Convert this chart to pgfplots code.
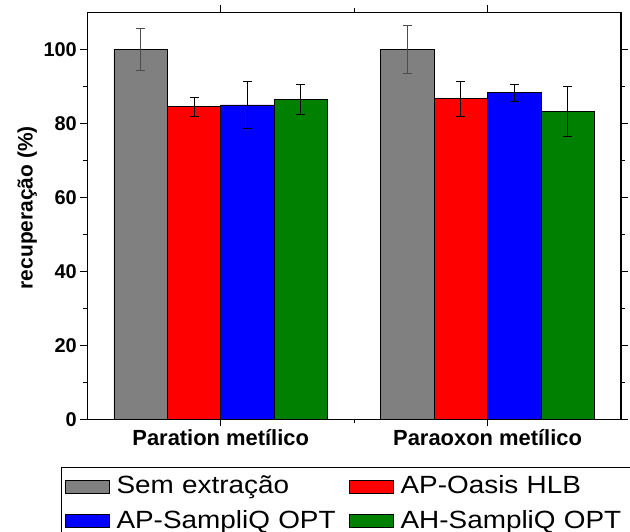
\documentclass[border=0pt]{standalone}
\usepackage{fontspec}
\setmainfont{Liberation Sans}
\newfontfamily\legfont[FakeStretch=1.12]{Liberation Sans}
\usepackage{pgfplots}
\pgfplotsset{compat=1.18}
\definecolor{semgrey}{RGB}{128,128,128}
\definecolor{oasisred}{RGB}{255,0,0}
\definecolor{apblue}{RGB}{0,0,255}
\definecolor{ahgreen}{RGB}{0,128,0}

\begin{document}
\begin{tikzpicture}
\begin{axis}[
    scale only axis, width=533.7bp, height=406.8bp,
    xmin=0.5, xmax=2.5, ymin=0, ymax=110,
    ybar=0pt, bar width=0.2,
    xtick={1,2}, xticklabels={Paration metílico, Paraoxon metílico},
    minor xtick={1.5},
    ytick={0,20,...,100}, minor ytick={10,30,...,90},
    tick align=outside,
    major tick length=7bp, minor tick length=4bp,
    axis line style={line width=1.2bp},
    every tick/.style={black, line width=1.2bp},
    /pgf/number format/assume math mode=true,
    ticklabel style={font=\bfseries\fontsize{20}{24}\selectfont},
    xticklabel style={font=\bfseries\fontsize{22}{26}\selectfont},
    ylabel={recuperação (\%)},
    ylabel style={font=\bfseries\fontsize{21}{25}\selectfont,
        at={(axis description cs:-0.1025,0.52)}, anchor=base},
    legend image code/.code={\draw[#1, draw=black, line width=0.8bp] (0bp,-6.7bp) rectangle (44bp,6.7bp);},
    legend cell align=left,
    legend columns=2,
    legend style={at={(-0.0498,-0.118)}, anchor=north west,
        draw=black, line width=0.8bp, inner xsep=4bp, inner ysep=5bp,
        font=\legfont\fontsize{25}{30}\selectfont,
        nodes={inner sep=2bp, text height=19bp, text depth=5bp},
        row sep=6.4bp,
        /tikz/every odd column/.append style={column sep=4.6bp},
        /tikz/every even column/.append style={column sep=5.7bp, nodes={text width=225bp}}},
]
\addplot[fill=semgrey, draw=black, line width=0.8bp,
    error bars/.cd, y dir=both, y explicit,
    error bar style={black!70, line width=1bp},
    error mark options={rotate=90, black!70, line width=1bp, mark size=4.5bp}]
    coordinates {(1,100) +- (0,5.6) (2,100) +- (0,6.5)};
\addlegendentry{Sem extração}
\addplot[fill=oasisred, draw=black, line width=0.8bp,
    error bars/.cd, y dir=both, y explicit,
    error bar style={black, line width=1bp},
    error mark options={rotate=90, black, line width=1bp, mark size=4.5bp}]
    coordinates {(1,84.5) +- (0,2.5) (2,86.7) +- (0,4.7)};
\addlegendentry{AP-Oasis HLB}
\addplot[fill=apblue, draw=black, line width=0.8bp,
    error bars/.cd, y dir=both, y explicit,
    error bar style={black, line width=1bp},
    error mark options={rotate=90, black, line width=1bp, mark size=4.5bp}]
    coordinates {(1,85.0) +- (0,6.4) (2,88.3) +- (0,2.35)};
\addlegendentry{AP-SampliQ OPT}
\addplot[fill=ahgreen, draw=black, line width=0.8bp,
    error bars/.cd, y dir=both, y explicit,
    error bar style={black, line width=1bp},
    error mark options={rotate=90, black, line width=1bp, mark size=4.5bp}]
    coordinates {(1,86.5) +- (0,4.1) (2,83.2) +- (0,6.8)};
\addlegendentry{AH-SampliQ OPT}
\end{axis}
\pgfresetboundingbox
\path[use as bounding box] ([shift={(-87.3bp,-112.7bp)}]current axis.south west) rectangle ++(630bp,532bp);
\end{tikzpicture}
\end{document}
